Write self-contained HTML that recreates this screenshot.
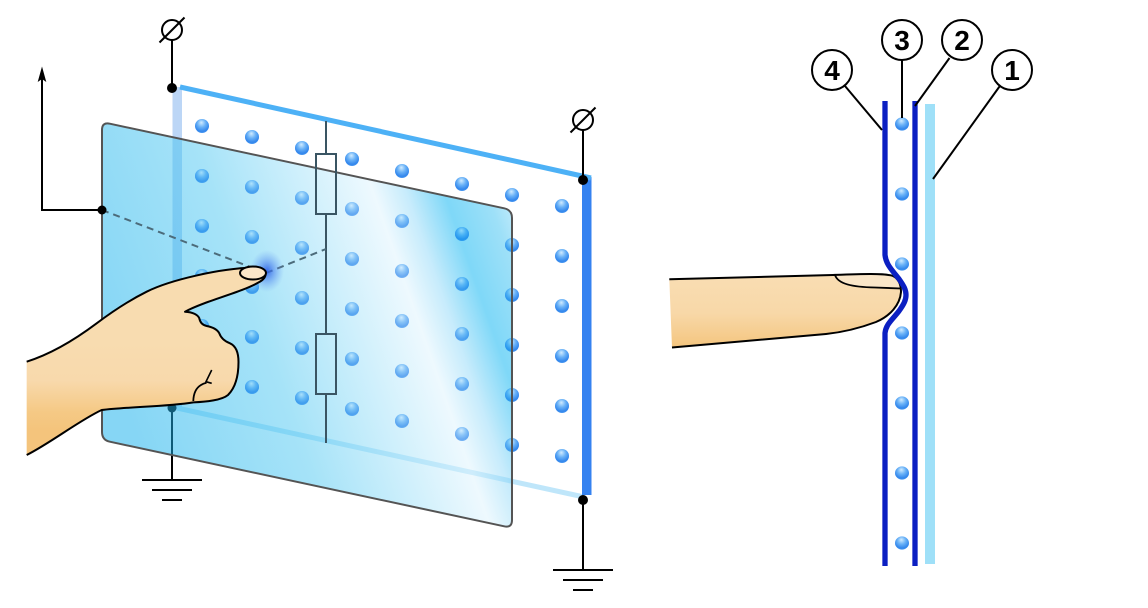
<!DOCTYPE html>
<html><head><meta charset="utf-8"><style>
html,body{margin:0;padding:0;background:#fff;}
svg{display:block;}
text{font-family:"Liberation Sans",sans-serif;font-weight:bold;}
</style></head><body>
<svg width="1148" height="608" viewBox="0 0 1148 608" xmlns="http://www.w3.org/2000/svg">
<defs>
  <radialGradient id="dot" cx="50%" cy="35%" r="65%" fx="45%" fy="25%">
    <stop offset="0" stop-color="#d2ecff"/>
    <stop offset="0.45" stop-color="#6ab2f7"/>
    <stop offset="0.85" stop-color="#3286ec"/>
    <stop offset="1" stop-color="#4a98f0"/>
  </radialGradient>
  <linearGradient id="panel" gradientUnits="userSpaceOnUse" x1="100" y1="340" x2="520" y2="193">
    <stop offset="0" stop-color="#0dadeb"/>
    <stop offset="0.35" stop-color="#4dc7f1"/>
    <stop offset="0.55" stop-color="#a1e1f9"/>
    <stop offset="0.69" stop-color="#ddf3fd"/>
    <stop offset="0.76" stop-color="#8fd8f8"/>
    <stop offset="0.84" stop-color="#00b1f1"/>
    <stop offset="0.93" stop-color="#3dc1f1"/>
    <stop offset="1" stop-color="#a1e1f9"/>
  </linearGradient>
  <radialGradient id="glow" cx="50%" cy="50%" r="50%">
    <stop offset="0" stop-color="#2a5fe6" stop-opacity="0.9"/>
    <stop offset="0.5" stop-color="#4a7fee" stop-opacity="0.45"/>
    <stop offset="1" stop-color="#6a9cf2" stop-opacity="0"/>
  </radialGradient>
  <linearGradient id="hand" gradientUnits="userSpaceOnUse" x1="0" y1="340" x2="0" y2="430">
    <stop offset="0" stop-color="#f8dcb0"/>
    <stop offset="0.45" stop-color="#f8d9ac"/>
    <stop offset="0.8" stop-color="#f5c985"/>
    <stop offset="1" stop-color="#f4c47c"/>
  </linearGradient>
  <linearGradient id="finger" gradientUnits="userSpaceOnUse" x1="0" y1="278" x2="0" y2="348">
    <stop offset="0" stop-color="#f9ddb2"/>
    <stop offset="0.5" stop-color="#f8d8a8"/>
    <stop offset="1" stop-color="#f4c57e"/>
  </linearGradient>
  <clipPath id="panelClip">
    <path d="M102,130 Q102,122 109.8,123.7 L504.2,208.3 Q512,210 512,218 L512,520 Q512,528 504.2,526.3 L109.8,441.7 Q102,440 102,432 Z"/>
  </clipPath>
  <g id="dots">
    <circle cx="202" cy="126" r="7"/><circle cx="202" cy="176" r="7"/><circle cx="202" cy="226" r="7"/><circle cx="202" cy="276" r="7"/><circle cx="202" cy="326" r="7"/><circle cx="202" cy="376" r="7"/>
    <circle cx="252" cy="137" r="7"/><circle cx="252" cy="187" r="7"/><circle cx="252" cy="237" r="7"/><circle cx="252" cy="287" r="7"/><circle cx="252" cy="337" r="7"/><circle cx="252" cy="387" r="7"/>
    <circle cx="302" cy="148" r="7"/><circle cx="302" cy="198" r="7"/><circle cx="302" cy="248" r="7"/><circle cx="302" cy="298" r="7"/><circle cx="302" cy="348" r="7"/><circle cx="302" cy="398" r="7"/>
    <circle cx="352" cy="159" r="7"/><circle cx="352" cy="209" r="7"/><circle cx="352" cy="259" r="7"/><circle cx="352" cy="309" r="7"/><circle cx="352" cy="359" r="7"/><circle cx="352" cy="409" r="7"/>
    <circle cx="402" cy="171" r="7"/><circle cx="402" cy="221" r="7"/><circle cx="402" cy="271" r="7"/><circle cx="402" cy="321" r="7"/><circle cx="402" cy="371" r="7"/><circle cx="402" cy="421" r="7"/>
    <circle cx="462" cy="184" r="7"/><circle cx="462" cy="234" r="7"/><circle cx="462" cy="284" r="7"/><circle cx="462" cy="334" r="7"/><circle cx="462" cy="384" r="7"/><circle cx="462" cy="434" r="7"/>
    <circle cx="512" cy="195" r="7"/><circle cx="512" cy="245" r="7"/><circle cx="512" cy="295" r="7"/><circle cx="512" cy="345" r="7"/><circle cx="512" cy="395" r="7"/><circle cx="512" cy="445" r="7"/>
    <circle cx="562" cy="206" r="7"/><circle cx="562" cy="256" r="7"/><circle cx="562" cy="306" r="7"/><circle cx="562" cy="356" r="7"/><circle cx="562" cy="406" r="7"/><circle cx="562" cy="456" r="7"/>
  </g>
</defs>

<!-- back plane edges -->
<rect x="172.5" y="87" width="9.5" height="322" fill="#bcd6f6"/>
<line x1="177" y1="408" x2="584" y2="497" stroke="#bfe6fa" stroke-width="5"/>
<rect x="582" y="177" width="9.5" height="318" fill="#3582f0"/>
<line x1="180" y1="87" x2="591" y2="178" stroke="#4db1f6" stroke-width="5"/>

<!-- dots on back plane -->
<use href="#dots" fill="url(#dot)"/>

<!-- left ground wire (behind panel) -->
<line x1="172" y1="408" x2="172" y2="481" stroke="#000" stroke-width="2"/>
<circle cx="172" cy="408" r="4.5" fill="#000"/>

<!-- front panel -->
<path d="M102,130 Q102,122 109.8,123.7 L504.2,208.3 Q512,210 512,218 L512,520 Q512,528 504.2,526.3 L109.8,441.7 Q102,440 102,432 Z" fill="url(#panel)" fill-opacity="0.5"/>
<g clip-path="url(#panelClip)" opacity="0.35">
  <use href="#dots" fill="url(#dot)"/>
</g>
<path d="M102,130 Q102,122 109.8,123.7 L504.2,208.3 Q512,210 512,218 L512,520 Q512,528 504.2,526.3 L109.8,441.7 Q102,440 102,432 Z" fill="none" stroke="#545454" stroke-width="2"/>

<!-- resistor network -->
<g stroke="#3a5563" stroke-width="2" fill="none">
  <line x1="326" y1="121" x2="326" y2="154"/>
  <rect x="316" y="154" width="20" height="60"/>
  <line x1="326" y1="214" x2="326" y2="334"/>
  <rect x="316" y="334" width="20" height="60"/>
  <line x1="326" y1="394" x2="326" y2="443"/>
</g>

<!-- dashed lines -->
<g stroke="#4c6b7a" stroke-width="2" stroke-dasharray="7,5" fill="none">
  <line x1="102" y1="210" x2="266" y2="273"/>
  <line x1="266" y1="273" x2="326" y2="249"/>
</g>

<!-- touch glow -->
<ellipse cx="267" cy="271" rx="17" ry="21" fill="url(#glow)"/>

<!-- hand -->
<path id="handOutline" d="M26.67,455 C50,443.33 80,420 101.67,410 C130,406.67 166.67,406.67 193.33,402.33 C206.67,402 222,400 228,395 C236,387 238.5,375 238.5,362 C238.5,352 236,346 230,343.3 C224,341 221,338 219.3,333.3 C217,329 212,327 206.7,326 C202,325 200,322 199.3,318.3 C198,315 193,312 185,311.7 C206.67,300 240,293.33 260,281.67 C268.33,276.67 268.33,268.33 253.33,267.67 C220,268.33 170,280 146.67,291.67 C126.67,301.67 110,313.33 96.67,323.33 C76.67,338.33 53.33,353.33 26.67,361.67 Z" fill="url(#hand)"/>
<path d="M26.67,455 C50,443.33 80,420 101.67,410 C130,406.67 166.67,406.67 193.33,402.33 C206.67,402 222,400 228,395 C236,387 238.5,375 238.5,362 C238.5,352 236,346 230,343.3 C224,341 221,338 219.3,333.3 C217,329 212,327 206.7,326 C202,325 200,322 199.3,318.3 C198,315 193,312 185,311.7 C206.67,300 240,293.33 260,281.67 C268.33,276.67 268.33,268.33 253.33,267.67 C220,268.33 170,280 146.67,291.67 C126.67,301.67 110,313.33 96.67,323.33 C76.67,338.33 53.33,353.33 26.67,361.67" fill="none" stroke="#000" stroke-width="2" stroke-linejoin="round"/>
<path d="M193.3,401 C193.5,394 196,388 201,385 C203,383.5 205,383 206.5,382.7" fill="none" stroke="#000" stroke-width="1.8"/>
<path d="M211.7,370 L206,381.7 L211.7,383.3" fill="none" stroke="#000" stroke-width="1.6"/>
<ellipse cx="253" cy="273" rx="13" ry="6.5" fill="#fbe6c8" stroke="#000" stroke-width="2"/>

<!-- arrow and left connector -->
<polyline points="102,210 42,210 42,78" fill="none" stroke="#000" stroke-width="2"/>
<polygon points="42,66.5 46.3,82 42,79 37.7,82" fill="#000"/>
<circle cx="102" cy="210" r="4.5" fill="#000"/>

<!-- left supply -->
<line x1="172" y1="40" x2="172" y2="88" stroke="#000" stroke-width="2"/>
<circle cx="172" cy="30" r="10" fill="none" stroke="#000" stroke-width="2"/>
<line x1="159.5" y1="42.5" x2="184.5" y2="17.5" stroke="#000" stroke-width="2"/>
<circle cx="172" cy="88" r="5" fill="#000"/>

<!-- right supply -->
<line x1="583" y1="130" x2="583" y2="180" stroke="#000" stroke-width="2"/>
<circle cx="583" cy="120" r="10" fill="none" stroke="#000" stroke-width="2"/>
<line x1="570.5" y1="132.5" x2="595.5" y2="107.5" stroke="#000" stroke-width="2"/>
<circle cx="583" cy="180" r="5" fill="#000"/>

<!-- grounds -->
<line x1="583" y1="500" x2="583" y2="570" stroke="#000" stroke-width="2"/>
<circle cx="583" cy="500" r="5" fill="#000"/>
<g stroke="#000" stroke-width="2">
  <line x1="553" y1="570" x2="613" y2="570"/>
  <line x1="563" y1="580" x2="603" y2="580"/>
  <line x1="573" y1="590" x2="593" y2="590"/>
  <line x1="142" y1="480" x2="202" y2="480"/>
  <line x1="152" y1="490" x2="192" y2="490"/>
  <line x1="162" y1="500" x2="182" y2="500"/>
</g>

<!-- ===== right diagram ===== -->
<path d="M669.3,279.3 L833,275 C860,274 885,273 893,276 C899,279 901,285 901,292 C900,305 890,316 876,322 C860,328 845,332 826,334 L672,347.5 Z" fill="url(#finger)"/>
<path d="M835,275 C838,284 852,287 875,287.5 L901,288.5 C900,281 896,275 888,274.5 Z" fill="#fae6c8"/>
<path d="M669.3,279.3 L833,275 C860,274 885,273 893,276 C899,279 901,285 901,292 C900,305 890,316 876,322 C860,328 845,332 826,334 L672,347.5" fill="none" stroke="#000" stroke-width="2"/>
<path d="M835,275 C838,284 852,287 875,287.5 L901,288.5" fill="none" stroke="#000" stroke-width="1.8"/>

<rect x="925" y="104" width="10" height="460" fill="#9fe0f8"/>
<line x1="915" y1="101" x2="915" y2="566" stroke="#0b1fc2" stroke-width="5.3"/>
<path d="M885,101 L885,255 C886,265 893,271 899,279 C904,286 906,290 906,295 C906,300 904,304 899,311 C893,319 886,324 885,333 L885,566" fill="none" stroke="#0b1fc2" stroke-width="5.3"/>

<g fill="url(#dot)">
  <ellipse cx="902" cy="124" rx="7" ry="6.6"/>
  <ellipse cx="902" cy="194" rx="7" ry="6.6"/>
  <ellipse cx="902" cy="264" rx="7" ry="6.6"/>
  <ellipse cx="902" cy="333" rx="7" ry="6.6"/>
  <ellipse cx="902" cy="403" rx="7" ry="6.6"/>
  <ellipse cx="902" cy="473" rx="7" ry="6.6"/>
  <ellipse cx="902" cy="543" rx="7" ry="6.6"/>
</g>

<!-- leaders -->
<g stroke="#000" stroke-width="2">
  <line x1="845" y1="86" x2="882" y2="130"/>
  <line x1="902" y1="60" x2="902" y2="118"/>
  <line x1="949.5" y1="58" x2="915" y2="106"/>
  <line x1="999.5" y1="86.5" x2="933" y2="179"/>
</g>
<g fill="#fff" stroke="#000" stroke-width="2">
  <circle cx="832" cy="70" r="20"/>
  <circle cx="902" cy="40" r="20"/>
  <circle cx="962" cy="40" r="20"/>
  <circle cx="1012" cy="70" r="20"/>
</g>
<g font-size="28" text-anchor="middle" fill="#000">
  <text x="832" y="80">4</text>
  <text x="902" y="50">3</text>
  <text x="962" y="50">2</text>
  <text x="1012" y="80">1</text>
</g>
</svg>
</body></html>
